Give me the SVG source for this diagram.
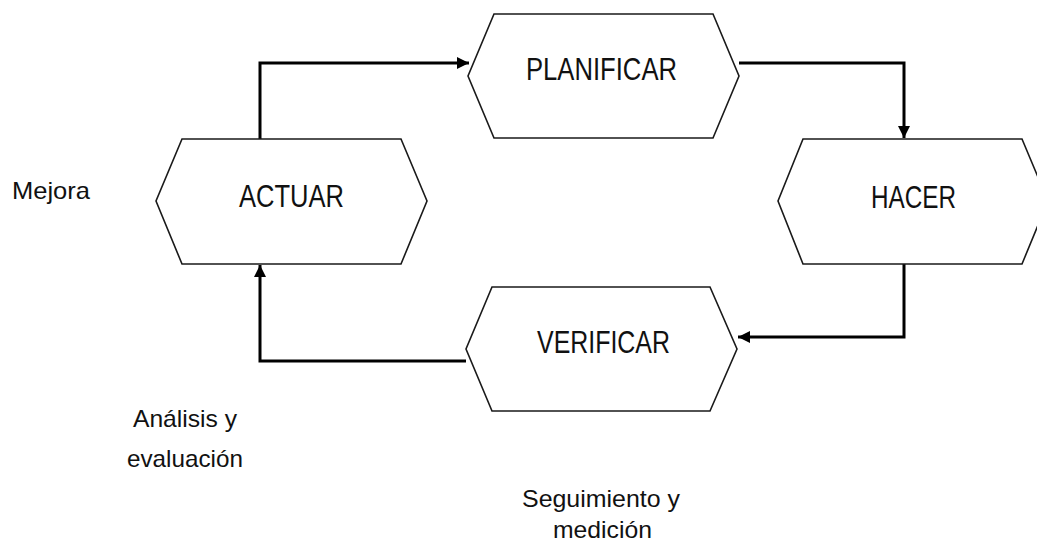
<svg xmlns="http://www.w3.org/2000/svg" width="1037" height="541" viewBox="0 0 1037 541">
<style>
.node{fill:#fff;stroke:#1a1a1a;stroke-width:1.6}
.lbl{font-family:"Liberation Sans",Arial,sans-serif;font-size:32px;fill:#111}
.note{font-family:"Liberation Sans",Arial,sans-serif;font-size:24px;fill:#111}
.conn{fill:none;stroke:#000;stroke-width:3}
</style>
<defs>
<marker id="ah" viewBox="0 0 10 10" refX="10" refY="5" markerWidth="4" markerHeight="4" markerUnits="strokeWidth" orient="auto">
<path d="M0,0 L10,5 L0,10 z" fill="#000"/>
</marker>
</defs>
<rect width="1037" height="541" fill="#fff"/>
<g id="connectors">
<path class="conn" d="M260,139 V63 H469" marker-end="url(#ah)"/>
<path class="conn" d="M739,63 H904 V138" marker-end="url(#ah)"/>
<path class="conn" d="M904,264 V337 H738" marker-end="url(#ah)"/>
<path class="conn" d="M466,361 H260 V265" marker-end="url(#ah)"/>
</g>
<g id="planificar">
<polygon class="node" points="494,14 713,14 739,76 713,138 494,138 468,76"/>
<text class="lbl" x="526" y="80" textLength="151" lengthAdjust="spacingAndGlyphs">PLANIFICAR</text>
</g>
<g id="actuar">
<polygon class="node" points="182,139 401,139 427,201 401,264 182,264 156,201"/>
<text class="lbl" x="239" y="207" textLength="105" lengthAdjust="spacingAndGlyphs">ACTUAR</text>
</g>
<g id="hacer">
<polygon class="node" points="803,139 1022,139 1048,201 1022,264 803,264 778,201"/>
<text class="lbl" x="871" y="208" textLength="85" lengthAdjust="spacingAndGlyphs">HACER</text>
</g>
<g id="verificar">
<polygon class="node" points="492,287 710,287 737,349 710,411 492,411 466,349"/>
<text class="lbl" x="537" y="353" textLength="133" lengthAdjust="spacingAndGlyphs">VERIFICAR</text>
</g>
<g id="labels">
<text class="note" x="12" y="199" textLength="78" lengthAdjust="spacingAndGlyphs">Mejora</text>
<text class="note" x="133" y="427" textLength="104" lengthAdjust="spacingAndGlyphs">Análisis y</text>
<text class="note" x="127" y="467" textLength="116" lengthAdjust="spacingAndGlyphs">evaluación</text>
<text class="note" x="522" y="507" textLength="158" lengthAdjust="spacingAndGlyphs">Seguimiento y</text>
<text class="note" x="553" y="538" textLength="99" lengthAdjust="spacingAndGlyphs">medición</text>
</g>
</svg>
